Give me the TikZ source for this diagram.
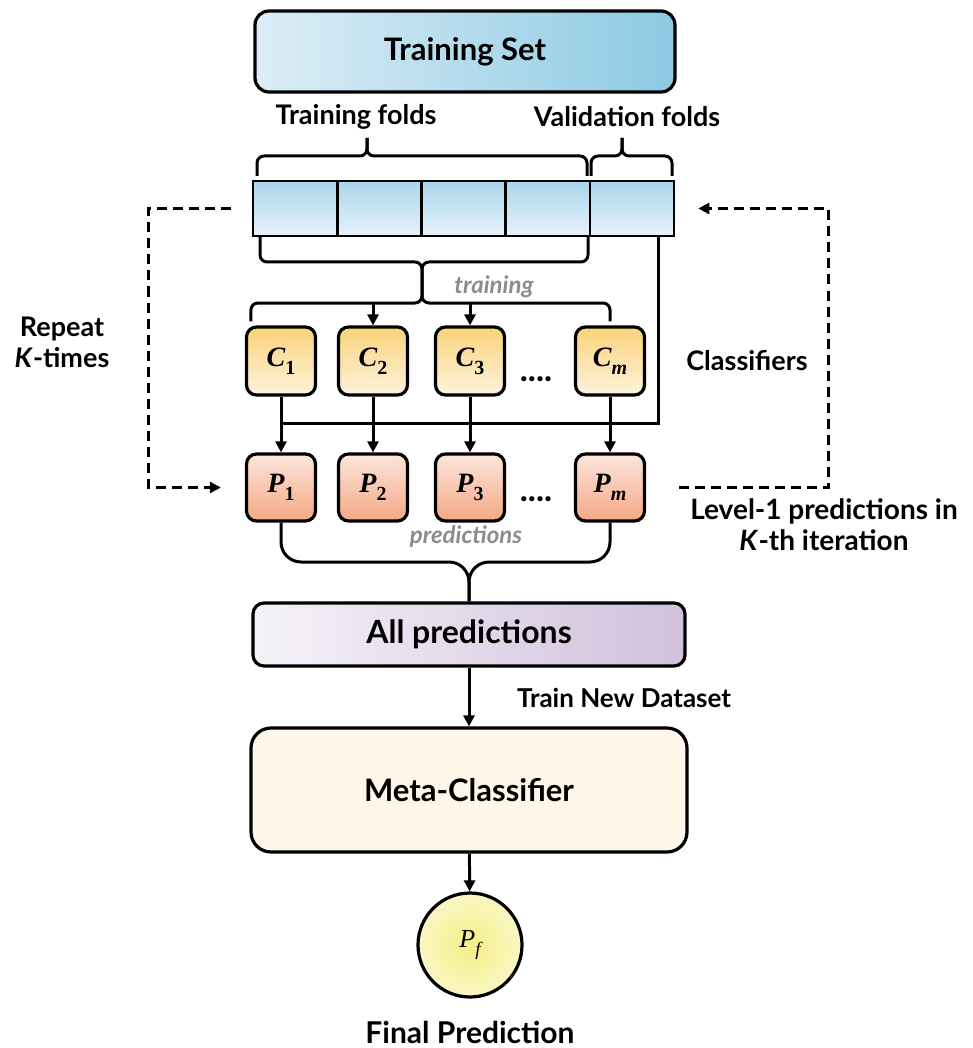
\documentclass[tikz,border=0pt]{standalone}
\usepackage{fontspec}
\setmainfont{Lato}
\newfontfamily\mvar{Liberation Serif}
\newcommand\mv[2]{{\mvar\bfseries\itshape #1}\raisebox{-0.28em}{\mvar\bfseries\fontsize{20}{20}\selectfont #2}}
\usetikzlibrary{arrows.meta,calc}

\definecolor{tsl}{HTML}{DDEDF6}
\definecolor{tsr}{HTML}{8CCAE3}
\definecolor{fdtop}{HTML}{A9D5EB}
\definecolor{fdbot}{HTML}{E8F3FA}
\definecolor{cltop}{HTML}{FBD27A}
\definecolor{clbot}{HTML}{FDF3DE}
\definecolor{prtop}{HTML}{FCE6DC}
\definecolor{prbot}{HTML}{F5A784}
\definecolor{alll}{HTML}{F5F2F8}
\definecolor{allr}{HTML}{D1C0DC}
\definecolor{metafill}{HTML}{FDF6E9}
\definecolor{pfin}{HTML}{F4EE86}
\definecolor{pfout}{HTML}{FAF7C4}
\definecolor{lblgray}{HTML}{8C8C8C}

\tikzset{
  box/.style={draw, line width=3.2pt, inner sep=0pt},
  fold/.style={draw, line width=2.6pt, minimum width=84.2pt, minimum height=55pt,
    top color=fdtop, bottom color=fdbot},
  clf/.style={box, rounded corners=10pt, minimum width=69pt, minimum height=68pt,
    top color=cltop, bottom color=clbot, font=\fontsize{28}{30}\selectfont},
  prd/.style={box, rounded corners=10pt, minimum width=69pt, minimum height=67pt,
    top color=prtop, bottom color=prbot, font=\fontsize{28}{30}\selectfont},
  lbl/.style={font=\fontsize{27}{31}\selectfont\bfseries, align=center},
  dots/.style={font=\fontsize{34}{36}\selectfont\bfseries, anchor=base},
  glbl/.style={font=\fontsize{24}{26}\selectfont\bfseries\itshape, text=lblgray},
  conn/.style={line width=3pt},
  arr/.style={conn, -{Triangle[length=11pt,width=11pt]}},
  brace/.style={conn, rounded corners=7pt},
  dasharr/.style={line width=3pt, dash pattern=on 10pt off 6pt,
    -{Triangle[length=11pt,width=11pt]}}
}

\begin{document}
\begin{tikzpicture}[x=1pt,y=-1pt]
\useasboundingbox (0,0) rectangle (973,1048);

\node[box, rounded corners=14pt, minimum width=420pt, minimum height=81pt,
  left color=tsl, right color=tsr, font=\fontsize{31}{34}\selectfont\bfseries]
  (tset) at (465,51.5) {Training Set};

\node[lbl] (tfl) at (356,117) {Training folds};
\node[lbl] (vfl) at (627,117) {Validation folds};

\foreach \i in {1,...,5}
  \node[fold] (f\i) at ({253+84.2*(\i-0.5)},208.5) {};

\draw[brace] (257,176) |- (367,156) -- (367,138);
\draw[brace] (367,138) -- (367,156) -| (587,176);
\draw[brace] (591,176) |- (622,156) -- (622,138);
\draw[brace] (622,138) -- (622,156) -| (672,176);

\coordinate (tb) at (422,262);
\coordinate (lb) at (422,303);
\coordinate (vdrop) at (658,236);

\node[clf] (C1) at (281,361) {\mv{C}{1}};
\node[clf] (C2) at (373,361) {\mv{C}{2}};
\node[clf] (C3) at (470,361) {\mv{C}{3}};
\node[clf] (Cm) at (610,361) {\mv{C}{\itshape m}};
\node[dots] (cd) at (536,381) {....};

\node[prd] (P1) at (281,487.5) {\mv{P}{1}};
\node[prd] (P2) at (373,487.5) {\mv{P}{2}};
\node[prd] (P3) at (470,487.5) {\mv{P}{3}};
\node[prd] (Pm) at (610,487.5) {\mv{P}{\itshape m}};
\node[dots] (pd) at (536,501) {....};

\draw[brace] (260,236) |- (tb) -- (lb) -| ($(Cm.north)+(0,-4)$);
\draw[brace] (588,236) |- (tb) -- (lb) -| ($(C1.north west)+(6,-4)$);
\draw[arr] (C2.north |- lb) -- (C2.north);
\draw[arr] (C3.north |- lb) -- (C3.north);

\node[glbl] (trn) at (494,287) {training};

\coordinate (hl) at (0,423);
\draw[conn] (vdrop) |- (C1.south |- hl);
\foreach \k in {1,2,3,m}
  \draw[arr] (C\k) -- (P\k);

\node[lbl] (clsf) at (747,361) {Classifiers};
\node[lbl] (rep) at (62,342) {Repeat\\\textit{K}-times};
\node[lbl, font=\fontsize{28}{31}\selectfont\bfseries] (lvl) at (824,525) {Level-1 predictions in\\\textit{K}-th iteration};

\draw[dasharr] ($(f1.west)+(-21,0)$) -- ++(-82,0) |- ($(P1.west)+(-24,0)$);
\draw[dasharr] ($(Pm.east)+(33,0)$) -- ++(149,0) |- ($(f5.east)+(23,0)$);

\node[box, rounded corners=11pt, minimum width=432pt, minimum height=63pt,
  left color=alll, right color=allr, font=\fontsize{32}{34}\selectfont\bfseries]
  (all) at (469,634.5) {All predictions};

\coordinate (pby) at (0,562);
\coordinate (pb) at (all.north |- pby);
\draw[conn, rounded corners=20pt] (P1.south) |- (pb) -- (all.north);
\draw[conn, rounded corners=20pt] (Pm.south) |- (pb) -- (all.north);
\node[glbl] (prds) at (466,537) {predictions};

\node[box, rounded corners=20pt, minimum width=436pt, minimum height=124pt,
  fill=metafill, font=\fontsize{31}{34}\selectfont\bfseries]
  (meta) at (469,790) {Meta-Classifier};

\draw[arr] (all) -- (meta);
\node[lbl, font=\fontsize{26}{28}\selectfont\bfseries] (tnd) at (624,698) {Train New Dataset};

\node[box, circle, minimum size=104pt, inner color=pfin, outer color=pfout,
  font=\fontsize{26}{28}\selectfont]
  (pf) at (470,945) {{\mvar\itshape P}\raisebox{-0.3em}{\mvar\itshape\fontsize{19}{19}\selectfont f}};
\draw[arr] (meta) -- (pf);

\node[lbl, anchor=base, inner sep=1pt, font=\fontsize{30}{33}\selectfont\bfseries]
  (fin) at (470,1043) {Final Prediction};

\end{tikzpicture}
\end{document}
